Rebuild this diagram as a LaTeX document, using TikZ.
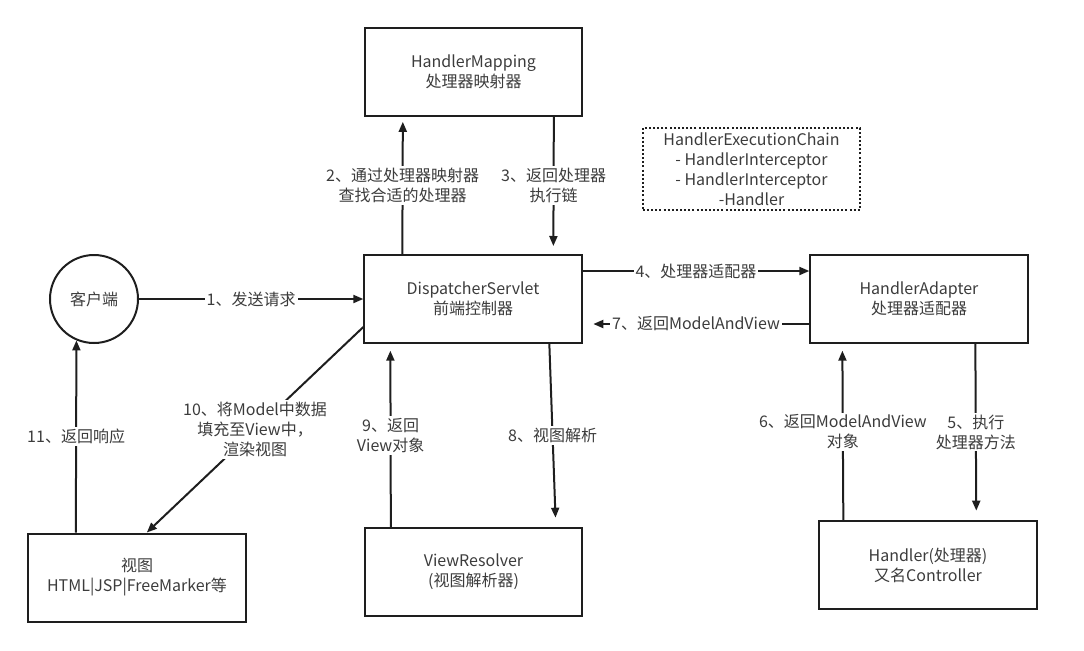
\documentclass[tikz,border=0pt]{standalone}
\usepackage{fontspec}
\setmainfont{Noto Sans CJK SC}
\usepackage{tikz}
\usetikzlibrary{arrows.meta, positioning, calc}
\usepackage{xcolor}
\definecolor{mvcink}{HTML}{1E1E1E}
\definecolor{mvctext}{HTML}{3C3C3C}

\begin{document}
\begin{tikzpicture}[x=0.75pt, y=-0.75pt,
    font=\fontsize{12pt}{15pt}\selectfont, text=mvctext,
    >={Triangle[length=7.5pt, width=6pt]},
    box/.style={draw=mvcink, line width=1.5pt, minimum width=163pt, minimum height=66pt, align=center, inner sep=2pt},
    flow/.style={draw=mvcink, line width=1.5pt, ->},
    lbl/.style={fill=white, align=center, inner sep=1.5pt}]
  \useasboundingbox (0,0) rectangle (1084,650);
  % the boxes
  \node[box] (hm) at (473.5,71.5) {HandlerMapping\\处理器映射器};
  \node[box] (ds) at (473,299) {DispatcherServlet\\前端控制器};
  \node[box] (ha) at (919,299) {HandlerAdapter\\处理器适配器};
  \node[box] (hd) at (928,565) {Handler(处理器)\\又名Controller};
  \node[box] (vr) at (473.5,572) {ViewResolver\\(视图解析器)};
  \node[box] (vw) at (137,577.5) {视图\\HTML|JSP|FreeMarker等};
  \node[draw=mvcink, line width=1.5pt, circle, minimum size=66pt] (client) at (94,299) {客户端};
  \node[draw=mvcink, line width=1.5pt, dash pattern=on 1.5pt off 1.6pt, minimum width=163pt, minimum height=61pt, align=center] (chain) at (751.5,169)
    {HandlerExecutionChain\\- HandlerInterceptor\\- HandlerInterceptor\\-Handler};
  % request goes in
  \draw[flow] (client.east) -- node[lbl] {1、发送请求} (ds.west);
  \draw[flow, shorten >=4pt] ($(ds.north west)+(39,0)$) -- node[lbl] {2、通过处理器映射器\\查找合适的处理器} ($(hm.south west)+(39,0)$);
  \draw[flow, shorten >=6pt] ($(hm.south west)+(190,0)$) -- node[lbl] {3、返回处理器\\执行链} ($(ds.north west)+(190,0)$);
  \draw[flow] ($(ds.north east)+(0,17)$) -- node[lbl] {4、处理器适配器} ($(ha.north west)+(0,17)$);
  \draw[flow, shorten >=7pt] ($(ha.south west)+(166,0)$) -- node[lbl] {5、执行\\处理器方法} ($(hd.north west)+(158,0)$);
  % the answer comes back
  \draw[flow, shorten >=5pt] ($(hd.north west)+(25,0)$) -- node[lbl] {6、返回ModelAndView\\对象} ($(ha.south west)+(33,0)$);
  \draw[flow, shorten >=8pt] ($(ha.north west)+(0,70)$) -- node[lbl] {7、返回ModelAndView} ($(ds.north east)+(0,70)$);
  \draw[flow, shorten >=7pt] ($(ds.south west)+(186,0)$) -- node[lbl] {8、视图解析} ($(vr.north west)+(192,0)$);
  \draw[flow, shorten >=5pt] ($(vr.north west)+(27,0)$) -- node[lbl] {9、返回\\View对象} ($(ds.south west)+(27,0)$);
  \draw[flow] ($(ds.north west)+(0,73)$) -- node[lbl] {10、将Model中数据\\填充至View中，\\渲染视图} ($(vw.north west)+(119.5,0)$);
  \draw[flow] ($(vw.north west)+(48.5,0)$) -- node[lbl] {11、返回响应} (client.247);
\end{tikzpicture}
\end{document}
